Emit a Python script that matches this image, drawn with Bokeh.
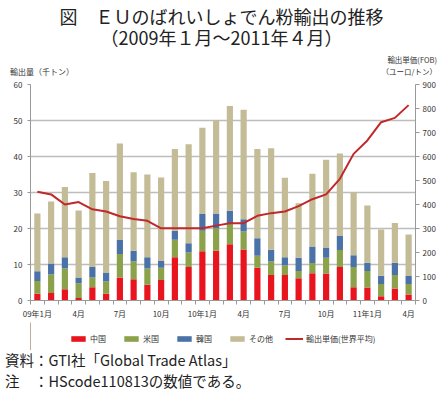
from bokeh.plotting import figure
from bokeh.models import (Range1d, LinearAxis, FixedTicker, Legend, LegendItem,
                          ColumnDataSource, Div)
from bokeh.layouts import column
from bokeh.embed import file_html
from bokeh.resources import INLINE

# ---- data (thousand tonnes; unit price EUR/t) ----
months = ["09-01", "09-02", "09-03", "09-04", "09-05", "09-06", "09-07", "09-08", "09-09",
          "09-10", "09-11", "09-12", "10-01", "10-02", "10-03", "10-04", "10-05", "10-06",
          "10-07", "10-08", "10-09", "10-10", "10-11", "10-12", "11-01", "11-02", "11-03",
          "11-04"]
china = [1.9, 2.1, 3.1, 0.7, 3.7, 1.9, 6.4, 5.9, 4.4, 5.7, 12.0, 9.3, 13.7, 13.8, 15.6,
         14.2, 9.1, 7.1, 7.1, 6.2, 7.6, 7.5, 9.3, 3.7, 3.6, 1.2, 3.3, 1.7]
usa = [3.5, 5.1, 5.8, 4.1, 2.7, 3.4, 6.5, 4.9, 4.5, 3.4, 4.9, 4.0, 5.7, 6.3, 5.7,
       5.0, 3.3, 3.7, 2.6, 2.0, 2.8, 4.4, 4.7, 5.6, 4.6, 3.4, 3.8, 2.9]
korea = [2.7, 3.1, 3.1, 1.6, 2.9, 2.5, 3.9, 3.0, 3.1, 1.9, 2.5, 2.6, 4.6, 4.1, 3.6,
         3.4, 4.9, 3.3, 2.3, 3.7, 4.6, 2.8, 3.9, 3.3, 2.3, 2.3, 3.4, 2.2]
other = [16.1, 17.2, 19.5, 18.6, 26.1, 25.4, 26.8, 21.8, 23.0, 23.2, 22.7, 27.5, 24.0, 25.8, 29.1,
         30.4, 24.8, 28.2, 22.1, 15.1, 20.2, 24.4, 22.9, 17.5, 15.9, 12.8, 11.0, 11.5]
price = [453, 442, 400, 410, 380, 371, 351, 340, 332, 301, 301, 301, 301, 312, 322,
         322, 353, 364, 371, 393, 422, 442, 507, 611, 667, 743, 761, 814]
tick_pos = [0, 3, 6, 9, 12, 15, 18, 21, 24, 27]
tick_labels = ["09年1月", "4月", "7月", "10月", "10年1月", "4月", "7月", "10月", "11年1月", "4月"]
series_names = ["中国", "米国", "韓国", "その他"]
line_name = "輸出単価(世界平均)"

FONT = "Noto Sans CJK JP"
COLORS = ["#E8141E", "#8BA24A", "#4A72A6", "#C4BC96"]
C_LINE = "#C0282A"

src = ColumnDataSource(dict(x=list(range(len(months))), china=china, usa=usa,
                            korea=korea, other=other, price=price))

# ---- main chart ----
p = figure(width=443, height=246, output_backend="svg", toolbar_location=None,
           x_range=Range1d(-0.5, 27.5), y_range=Range1d(0, 60),
           min_border_left=30, min_border_right=28, min_border_top=8, min_border_bottom=22,
           margin=0)
p.outline_line_color = None
p.background_fill_color = "white"
p.extra_y_ranges = {"price": Range1d(0, 900)}

p.vbar_stack(["china", "usa", "korea", "other"], x="x", width=0.45, source=src,
             color=COLORS, line_color=None)
p.line("x", "price", source=src, y_range_name="price", line_color=C_LINE, line_width=2)

xa = p.xaxis[0]
xa.ticker = FixedTicker(ticks=tick_pos, minor_ticks=[i - 0.5 for i in range(29)])
xa.major_label_overrides = {t: l for t, l in zip(tick_pos, tick_labels)}
xa.major_tick_out = 0
xa.major_tick_in = 0
xa.minor_tick_out = 4
xa.minor_tick_in = 0
xa.axis_line_color = "#999999"
xa.minor_tick_line_color = "#999999"
xa.major_label_text_font = FONT
xa.major_label_text_font_size = "8px"
xa.major_label_text_color = "#333333"
xa.major_label_standoff = 3

ya = p.yaxis[0]
ya.ticker = FixedTicker(ticks=[0, 10, 20, 30, 40, 50, 60])
ya.axis_line_color = "#999999"
ya.major_tick_out = 3
ya.major_tick_in = 0
ya.minor_tick_line_color = None
ya.major_tick_line_color = "#999999"
ya.major_label_text_font = FONT
ya.major_label_text_font_size = "8px"
ya.major_label_text_color = "#333333"
ya.major_label_standoff = 5

ra = LinearAxis(y_range_name="price", ticker=FixedTicker(ticks=list(range(0, 901, 100))))
ra.axis_line_color = "#999999"
ra.major_tick_out = 4
ra.major_tick_in = 0
ra.minor_tick_line_color = None
ra.major_tick_line_color = "#999999"
ra.major_label_text_font = FONT
ra.major_label_text_font_size = "8px"
ra.major_label_text_color = "#333333"
ra.major_label_standoff = 3
p.add_layout(ra, "right")

p.xgrid.grid_line_color = None
p.ygrid.grid_line_color = "#BDBDBD"
p.ygrid.grid_line_width = 1.5

# ---- legend strip (own small figure; its proxy glyphs sit outside the visible range) ----
lg = figure(width=443, height=28, output_backend="svg", toolbar_location=None,
            x_range=Range1d(0, 1), y_range=Range1d(0, 1),
            min_border=0, margin=0)
lg.axis.visible = False
lg.grid.visible = False
lg.outline_line_color = None
items = []
for name, col in zip(series_names, COLORS):
    r = lg.vbar(x=[-10], top=[1], width=0.1, fill_color=col, line_color=None)
    items.append(LegendItem(label=name, renderers=[r]))
rl = lg.line(x=[-10, -9], y=[0, 0], line_color=C_LINE, line_width=2)
items.append(LegendItem(label=line_name, renderers=[rl]))
legend = Legend(items=items, orientation="horizontal", location=(39, 6),
                glyph_width=18, glyph_height=7, spacing=12, label_standoff=3,
                padding=0, margin=0, border_line_color=None, background_fill_alpha=0,
                label_text_font=FONT, label_text_font_size="8px", label_text_color="#333333",
                label_height=8)
lg.add_layout(legend, "center")

title_html = f"""
<div style="position:relative;width:443px;height:76px;font-family:'{FONT}';color:#222;">
  <div style="position:absolute;left:0;top:6px;width:443px;text-align:center;font-size:18px;line-height:21px;white-space:nowrap;">図　ＥＵのばれいしょでん粉輸出の推移<br>（2009年１月～2011年４月）</div>
  <div style="position:absolute;left:10px;top:67px;font-size:8px;line-height:10px;color:#333;white-space:nowrap;">輸出量（千トン）</div>
  <div style="position:absolute;right:6px;top:54px;font-size:7.5px;line-height:12px;text-align:right;color:#333;white-space:nowrap;">輸出単価(FOB)<br>（ユーロ/トン）</div>
</div>
"""
notes_html = f"""
<div style="position:relative;width:443px;height:42px;font-family:'{FONT}';color:#222;font-size:14.5px;">
  <div style="position:absolute;left:5px;top:0px;line-height:20px;white-space:nowrap;">資料：GTI社「Global Trade Atlas」</div>
  <div style="position:absolute;left:5px;top:21px;line-height:20px;white-space:nowrap;">注　：HScode110813の数値である。</div>
</div>
"""
title_div = Div(text=title_html, width=443, height=76, margin=0)
notes_div = Div(text=notes_html, width=443, height=42, margin=0)

layout = column(title_div, p, lg, notes_div, spacing=0, margin=0)
open("out.html", "w").write(file_html(layout, INLINE))
